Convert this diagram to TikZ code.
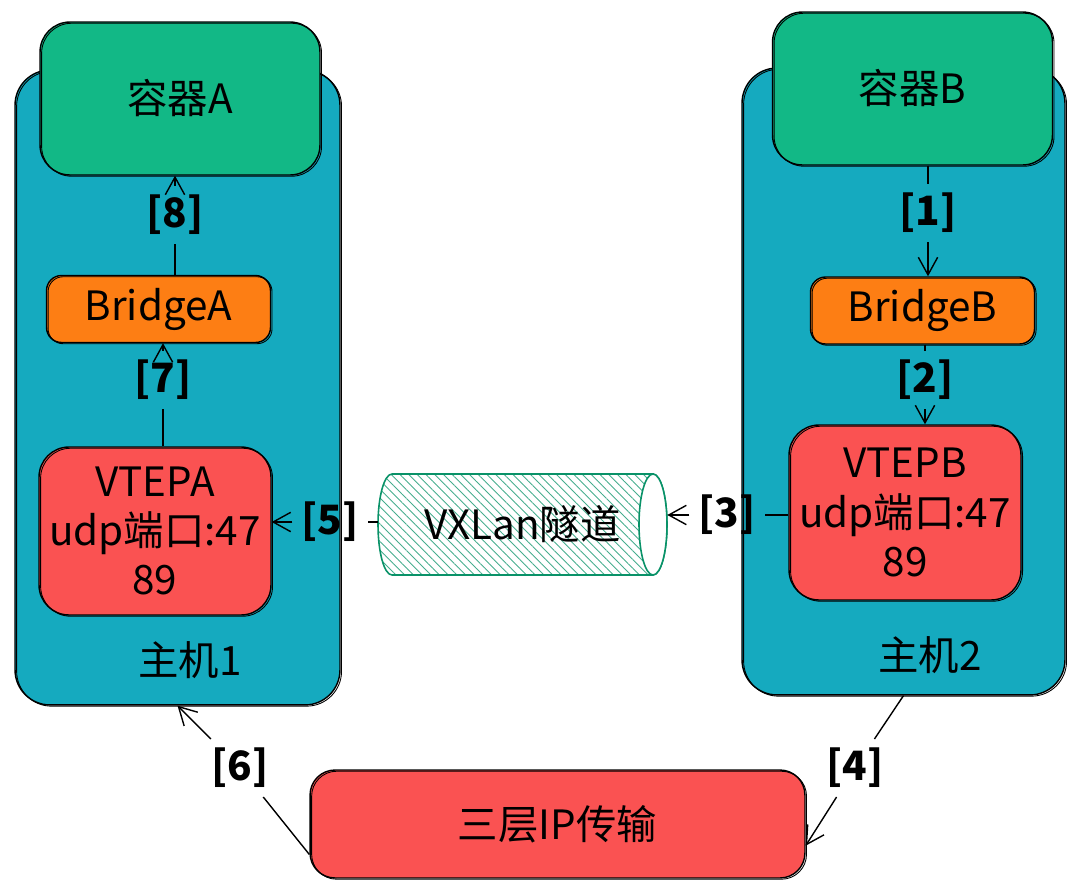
\documentclass[tikz,border=0pt]{standalone}
\usepackage{fontspec}
\setmainfont{Noto Sans CJK SC}
\usetikzlibrary{arrows.meta,patterns.meta}

\definecolor{hostcol}{HTML}{15AABF}
\definecolor{contcol}{HTML}{12B886}
\definecolor{bridgecol}{HTML}{FD7E14}
\definecolor{vtepcol}{HTML}{FA5252}
\definecolor{tunnelcol}{HTML}{099268}

\tikzset{
	sketch/.style={draw=black,line width=0.8pt,postaction={draw,line width=0.5pt,transform canvas={shift={(0.9pt,-0.7pt)}}}},
	hostbox/.style={sketch,fill=hostcol,rounded corners=0.7cm},
	contbox/.style={sketch,fill=contcol,rounded corners=0.6cm,minimum width=5.6cm,minimum height=3.06cm},
	bridgebox/.style={sketch,fill=bridgecol,rounded corners=0.3cm,minimum width=4.48cm,minimum height=1.34cm},
	vtepbox/.style={sketch,fill=vtepcol,rounded corners=0.6cm,minimum width=4.64cm,align=center},
	steplbl/.style={font=\fontsize{23}{28}\selectfont\bfseries,inner sep=5pt},
	conn/.style={draw,line width=0.8pt,-{Straight Barb[length=10pt,width=11pt]}}
}

\begin{document}
\begin{tikzpicture}[x=0.02cm,y=-0.02cm,font=\fontsize{23}{28}\selectfont]
	
	\useasboundingbox (0,0) rectangle (1080,892);
	
	\node[hostbox,minimum width=6.5cm,minimum height=12.7cm] (host1) at (177.5,387.5) {};
	\node[hostbox,minimum width=6.46cm,minimum height=12.54cm] (host2) at (903.5,381.5) {};
	
	\node[contbox] (conta) at (180,98.5) {容器A};
	\node[contbox] (contb) at (912.5,88.5) {容器B};
	
	\node[bridgebox] (bridgea) at (158.5,309) {BridgeA};
	\node[bridgebox] (bridgeb) at (922.5,310.5) {BridgeB};
	
	\node[vtepbox,minimum height=3.36cm] (vtepa) at (155,531) {VTEPA\\udp端口:47\\89};
	\node[vtepbox,minimum height=3.5cm] (vtepb) at (905,512.5) {VTEPB\\udp端口:47\\89};
	
	\node (h1lbl) at (190,660) {主机1};
	\node (h2lbl) at (930,655) {主机2};
	
	\draw[tunnelcol,line width=0.9pt,pattern={Lines[angle=-45,distance=3.5pt,line width=0.5pt]},pattern color=tunnelcol!75] (653,474) -- (392,474) arc[start angle=90,end angle=270,x radius=0.28cm,y radius=1.01cm] -- (653,575) arc[start angle=-90,end angle=90,x radius=0.28cm,y radius=1.01cm] -- cycle;
	\draw[tunnelcol,line width=0.9pt,fill=white] (653,524.5) ellipse [x radius=0.28cm,y radius=1.01cm];
	\node[minimum width=5.78cm,minimum height=2.02cm,inner sep=0pt] (tunnel) at (522.5,524.5) {VXLan隧道};
	
	\node[sketch,fill=vtepcol,rounded corners=0.5cm,minimum width=9.9cm,minimum height=2.16cm] (ipbox) at (557.5,824) {三层IP传输};
	
	\node[steplbl] (l1) at (928,213) {[1]};
	\node[steplbl] (l2) at (925,380) {[2]};
	\node[steplbl] (l3) at (727,515) {[3]};
	\node[steplbl] (l4) at (855,768) {[4]};
	\node[steplbl] (l5) at (330,522) {[5]};
	\node[steplbl] (l6) at (240,768) {[6]};
	\node[steplbl] (l7) at (163,380) {[7]};
	\node[steplbl] (l8) at (175,215) {[8]};
	
	\draw[conn] (contb.south -| l1) -- (l1) -- (bridgeb.north -| l1);
	
	\draw[conn] (bridgeb.south -| l2) -- (l2) -- (vtepb.north -| l2);
	
	\draw[conn] (vtepb.west |- l3) -- (l3) -- (tunnel.east |- l3);
	
	\draw[conn] (host2.south) -- (l4) -- (ipbox.-5);
	
	\draw[conn] (tunnel.west |- l5) -- (l5) -- (vtepa.east |- l5);
	
	\draw[conn] (ipbox.187) -- (l6) -- (host1.south);
	
	\draw[conn] (vtepa.north -| l7) -- (l7) -- (bridgea.south -| l7);
	
	\draw[conn] (bridgea.north -| l8) -- (l8) -- (conta.south -| l8);
\end{tikzpicture}
\end{document}
